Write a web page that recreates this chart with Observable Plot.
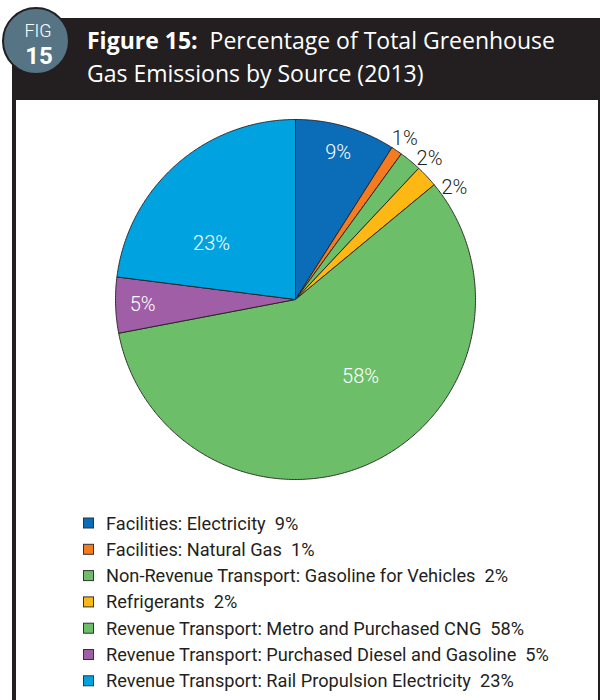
<!DOCTYPE html>
<html>
<head>
<meta charset="utf-8">
<script src="https://cdn.jsdelivr.net/npm/d3@7"></script>
<script src="https://cdn.jsdelivr.net/npm/@observablehq/plot@0.6"></script>
<style>
  html, body { margin: 0; padding: 0; background: #fff; }
  #page { position: relative; width: 600px; height: 700px; overflow: hidden; background: #fff; }
  #chart { position: absolute; left: 0; top: 100px; }
  #chart svg { background: transparent; }
  .abs { position: absolute; left: 0; top: 0; }
</style>
</head>
<body>
<div id="page">
  <div id="chart"></div>
  <svg id="legend" class="abs" width="600" height="700"></svg>
  <svg id="frame" class="abs" width="600" height="700"></svg>
</div>
<script>
// ---- data ----
const categories = [
  "Facilities: Electricity",
  "Facilities: Natural Gas",
  "Non-Revenue Transport: Gasoline for Vehicles",
  "Refrigerants",
  "Revenue Transport: Metro and Purchased CNG",
  "Revenue Transport: Purchased Diesel and Gasoline",
  "Revenue Transport: Rail Propulsion Electricity"
];
const values = [9, 1, 2, 2, 58, 5, 23];
const colors = ["#0b6db7", "#f47b20", "#6cbf68", "#fdb813", "#6cbf68", "#a05ea6", "#00a3e0"];
const titleBold = "Figure 15:";
const titleLine1 = "Percentage of Total Greenhouse";
const titleLine2 = "Gas Emissions by Source (2013)";
const badgeTop = "FIG";
const badgeNum = "15";

// ---- pie geometry (data coords, radius 1) ----
const total = d3.sum(values);
const slices = [];
let cum = 0;
values.forEach((v, i) => {
  const a0 = cum / total * 2 * Math.PI;
  cum += v;
  const a1 = cum / total * 2 * Math.PI;
  const pts = [{x: 0, y: 0}];
  const n = Math.max(2, Math.ceil((a1 - a0) / (Math.PI / 360)));
  for (let k = 0; k <= n; k++) {
    const a = a0 + (a1 - a0) * k / n;
    pts.push({x: Math.sin(a), y: Math.cos(a)});
  }
  pts.push({x: 0, y: 0});
  slices.push({i, v, a0, a1, pts, color: colors[i]});
});

// label placement rules
let outsideIdx = 0;
const labels = slices.map(s => {
  const mid = (s.a0 + s.a1) / 2;
  let a, r, fill;
  if (s.v < 5) {           // small: outside
    a = mid + (4 * outsideIdx) * Math.PI / 180; r = 1.08; fill = "#231f20";
    outsideIdx++;
  } else if (s.v < 10) {   // medium: near rim inside
    a = mid; r = 0.85; fill = "#fff";
  } else {                 // large
    a = mid - 15 * Math.PI / 180; r = 0.56; fill = "#fff";
  }
  return {x: Math.sin(a) * r, y: Math.cos(a) * r, text: s.v + "%", fill};
});

const cx = 295, cyPage = 299, R = 180, top0 = 100;
const plot = Plot.plot({
  width: 600,
  height: 400,
  margin: 0,
  style: {fontFamily: "Roboto", background: "transparent"},
  x: {domain: [-1, 1], range: [cx - R, cx + R], axis: null},
  y: {domain: [-1, 1], range: [cyPage - top0 + R, cyPage - top0 - R], axis: null},
  marks: [
    ...slices.map(s => Plot.line(s.pts, {x: "x", y: "y", fill: s.color, stroke: "#231f20", strokeWidth: 0.9, strokeLinejoin: "round"})),
    Plot.text(labels, {x: "x", y: "y", text: "text", fill: "fill", fontSize: 20, fontWeight: 300, fontFamily: "Roboto"})
  ]
});
document.getElementById("chart").appendChild(plot);

// ---- legend ----
const leg = d3.select("#legend");
categories.forEach((c, i) => {
  const yc = 523 + i * 26.3;
  leg.append("rect").attr("x", 83.5).attr("y", yc - 5).attr("width", 10).attr("height", 10)
    .attr("fill", colors[i]).attr("stroke", "#333").attr("stroke-width", 1);
  leg.append("text").attr("x", 106).attr("y", yc + 6.5)
    .attr("font-family", "Roboto").attr("font-size", 18.2).attr("fill", "#231f20")
    .style("white-space", "pre")
    .text(c + "  " + values[i] + "%");
});

// ---- frame / header ----
const fr = d3.select("#frame");
fr.append("rect").attr("x", 12).attr("y", 18).attr("width", 588).attr("height", 82).attr("fill", "#231f20");
fr.append("rect").attr("x", 12).attr("y", 18).attr("width", 4).attr("height", 682).attr("fill", "#231f20");
fr.append("rect").attr("x", 598).attr("y", 18).attr("width", 2).attr("height", 682).attr("fill", "#231f20");
fr.append("circle").attr("cx", 36).attr("cy", 41).attr("r", 33).attr("fill", "#577485").attr("stroke", "#231f20").attr("stroke-width", 2);
fr.append("text").attr("x", 38).attr("y", 36.5).attr("text-anchor", "middle").attr("font-family", "Roboto")
  .attr("font-weight", 300).attr("font-size", 18).attr("fill", "#fff").text(badgeTop);
fr.append("text").attr("x", 39).attr("y", 63.5).attr("text-anchor", "middle").attr("font-family", "Roboto")
  .attr("font-weight", 700).attr("font-size", 24).attr("fill", "#fff").text(badgeNum);
const t1 = fr.append("text").attr("x", 87).attr("y", 49).attr("font-family", "Open Sans").attr("font-size", 23).attr("fill", "#fff").style("white-space", "pre");
t1.append("tspan").attr("font-weight", 700).text(titleBold);
t1.append("tspan").text("  " + titleLine1);
fr.append("text").attr("x", 87).attr("y", 82).attr("font-family", "Open Sans").attr("font-size", 23).attr("fill", "#fff").text(titleLine2);
</script>
</body>
</html>
